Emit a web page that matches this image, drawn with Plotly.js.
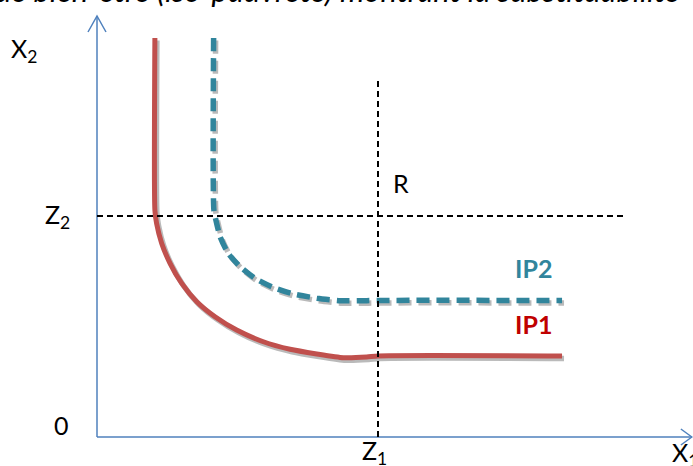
<!DOCTYPE html>
<html>
<head>
<meta charset="utf-8">
<script src="https://cdn.plot.ly/plotly-3.0.1.min.js"></script>
<style>html,body{margin:0;padding:0;background:#fff;}#chart{width:693px;height:466px;}</style>
</head>
<body>
<div id="chart"></div>
<script>
// Iso-poverty curve IP1 (solid red)
const ip1X = [2.06, 2.06, 2.12, 2.30, 2.60, 3.01, 3.55, 4.20, 4.97, 5.92, 6.87, 7.82, 8.77, 9.60, 10.0, 16.55];
const ip1Y = [18.05, 10.27, 9.67, 8.77, 7.86, 6.96, 6.12, 5.44, 4.84, 4.31, 3.97, 3.76, 3.59, 3.62, 3.67, 3.67];
// Iso-poverty curve IP2 (dashed teal)
const ip2X = [4.15, 4.16, 4.23, 4.38, 4.67, 5.09, 5.62, 6.27, 6.99, 7.82, 8.65, 9.60, 10.0, 16.55];
const ip2Y = [18.05, 10.27, 9.82, 9.07, 8.31, 7.71, 7.18, 6.77, 6.47, 6.28, 6.17, 6.17, 6.18, 6.18];
// Poverty thresholds
const z1 = 10;
const z2 = 10;
const z1LineTop = 16.15;
const z2LineEnd = 18.79;
const axisXEnd = 21.17;
const axisYEnd = 19.05;
// Text labels
const axisLabels = ['X<sub>2</sub>', 'Z<sub>2</sub>', '0', 'Z<sub>1</sub>', 'X<sub>1</sub>', 'R'];
const curveLabels = ['IP2', 'IP1'];
const titleText = 'de bien-être (iso-pauvreté) montrant la substituabilité';

const pxX = 28.1, pxY = 22.1;
const xr = [-3.452, 21.21], yr = [-1.312, 19.774];
const sdx = 2 / pxX, sdy = 2.5 / pxY;

const red = '#C0504D', teal = '#31859C', blue = '#4F81BD';
const shadow = 'rgba(0,0,0,0.27)';
const sm = 0.6;

const traces = [
  {x: ip1X, y: ip1Y, xaxis: 'x', yaxis: 'y', mode: 'lines',
   line: {color: shadow, width: 5.5, shape: 'spline', smoothing: sm}, hoverinfo: 'skip'},
  {x: ip2X, y: ip2Y, xaxis: 'x', yaxis: 'y', mode: 'lines',
   line: {color: shadow, width: 5.5, dash: '13px,7px', shape: 'spline', smoothing: sm}, hoverinfo: 'skip'},
  {x: ip1X, y: ip1Y, xaxis: 'x2', yaxis: 'y2', mode: 'lines',
   line: {color: red, width: 5, shape: 'spline', smoothing: sm}},
  {x: ip2X, y: ip2Y, xaxis: 'x2', yaxis: 'y2', mode: 'lines',
   line: {color: teal, width: 5.5, dash: '13px,7px', shape: 'spline', smoothing: sm}}
];

const ax = 9 / pxX, ay = 16 / pxY;
const bx = 11 / pxX, by = 8 / pxY;
const shapes = [
  {type: 'line', xref: 'x2', yref: 'y2', x0: 0, y0: 0, x1: 0, y1: axisYEnd, line: {color: blue, width: 1.5}},
  {type: 'line', xref: 'x2', yref: 'y2', x0: 0, y0: 0, x1: axisXEnd, y1: 0, line: {color: blue, width: 1.5}},
  {type: 'path', xref: 'x2', yref: 'y2',
   path: `M ${-ax} ${axisYEnd - ay} L 0 ${axisYEnd} L ${ax} ${axisYEnd - ay}`, line: {color: blue, width: 1.5}},
  {type: 'path', xref: 'x2', yref: 'y2',
   path: `M ${axisXEnd - bx} ${by} L ${axisXEnd} 0 L ${axisXEnd - bx} ${-by}`, line: {color: blue, width: 1.5}},
  {type: 'line', xref: 'x2', yref: 'y2', x0: 0, y0: z2, x1: z2LineEnd, y1: z2, line: {color: '#000', width: 2, dash: '6px,4px'}},
  {type: 'line', xref: 'x2', yref: 'y2', x0: z1, y0: 0, x1: z1, y1: z1LineTop, line: {color: '#000', width: 2, dash: '6px,4px'}}
];

const fnt = {family: 'Lato, "Open Sans", sans-serif', size: 25, color: '#000'};
const labelPos = [[-2.60, 17.51], [-1.39, z2], [-1.25, 0.54], [z1 - 0.11, -0.70], [20.93, -0.76], [10.82, 11.49]];
const annotations = axisLabels.map((t, i) => ({
  text: t, x: labelPos[i][0], y: labelPos[i][1], xref: 'x2', yref: 'y2',
  showarrow: false, font: fnt, xanchor: 'center', yanchor: 'middle'
}));
annotations.push({text: '<b>' + curveLabels[0] + '</b>', x: 15.52, y: 7.65, xref: 'x2', yref: 'y2',
  showarrow: false, font: {family: fnt.family, size: 25, color: teal}});
annotations.push({text: '<b>' + curveLabels[1] + '</b>', x: 15.52, y: 5.11, xref: 'x2', yref: 'y2',
  showarrow: false, font: {family: fnt.family, size: 25, color: '#C00000'}});
annotations.push({text: '<i>' + titleText + '</i>', x: -0.01, y: 0.976, xref: 'paper', yref: 'paper',
  xanchor: 'left', yanchor: 'bottom', showarrow: false, font: {family: fnt.family, size: 31, color: '#000'}});

const layout = {
  width: 693, height: 466,
  margin: {l: 0, r: 0, t: 0, b: 0},
  paper_bgcolor: '#fff', plot_bgcolor: '#fff',
  showlegend: false,
  xaxis: {range: [xr[0] - sdx, xr[1] - sdx], visible: false, fixedrange: true},
  yaxis: {range: [yr[0] + sdy, yr[1] + sdy], visible: false, fixedrange: true},
  xaxis2: {range: xr, visible: false, overlaying: 'x', fixedrange: true},
  yaxis2: {range: yr, visible: false, overlaying: 'y', fixedrange: true},
  shapes: shapes,
  annotations: annotations
};

Plotly.newPlot('chart', traces, layout, {displayModeBar: false, staticPlot: true});
</script>
</body>
</html>
